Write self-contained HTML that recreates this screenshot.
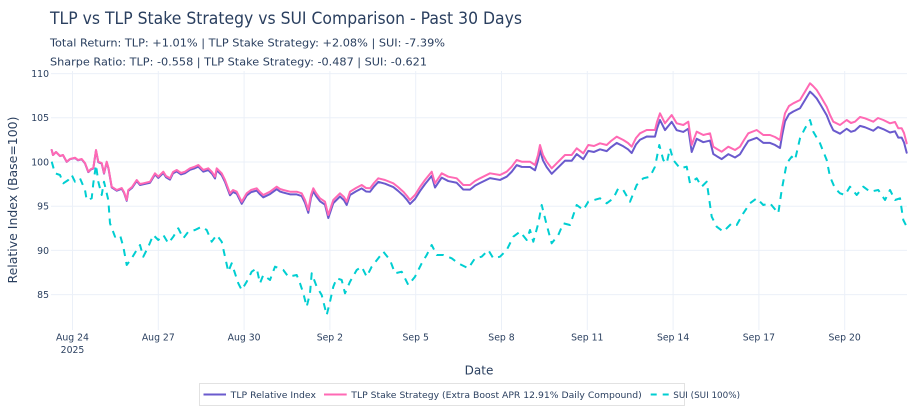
<!DOCTYPE html>
<html><head><meta charset="utf-8"><style>
html,body{margin:0;padding:0;background:#fff;}
svg{display:block;}
text{font-family:"DejaVu Sans","Liberation Sans",sans-serif;fill:#2a3f5f;}
</style></head><body>
<svg width="922" height="416" viewBox="0 0 922 416" xmlns="http://www.w3.org/2000/svg">
<rect width="922" height="416" fill="#fff"/>
<g stroke="#EBF0F8" stroke-width="1">
<line x1="51" y1="73.6" x2="907" y2="73.6"/>
<line x1="51" y1="117.8" x2="907" y2="117.8"/>
<line x1="51" y1="162" x2="907" y2="162"/>
<line x1="51" y1="206.2" x2="907" y2="206.2"/>
<line x1="51" y1="250.4" x2="907" y2="250.4"/>
<line x1="51" y1="294.6" x2="907" y2="294.6"/>
<line x1="72.5" y1="71" x2="72.5" y2="330"/>
<line x1="158.3" y1="71" x2="158.3" y2="330"/>
<line x1="244.1" y1="71" x2="244.1" y2="330"/>
<line x1="329.9" y1="71" x2="329.9" y2="330"/>
<line x1="415.7" y1="71" x2="415.7" y2="330"/>
<line x1="501.5" y1="71" x2="501.5" y2="330"/>
<line x1="587.3" y1="71" x2="587.3" y2="330"/>
<line x1="673.1" y1="71" x2="673.1" y2="330"/>
<line x1="758.9" y1="71" x2="758.9" y2="330"/>
<line x1="844.7" y1="71" x2="844.7" y2="330"/>
</g>
<defs>
<path id="stake" d="M51.7,150 L53,155 L56,152 L60,156 L63,155 L66.7,161.7 L70,159 L75,157.7 L78,160 L81.7,159 L85,163 L88.3,171.7 L91,169 L93.3,168 L96,150 L98.3,161.7 L101.7,163 L104,173 L106.7,161.7 L108.5,168 L111.7,186.7 L116.7,190 L121.7,188 L124,192 L126.7,200 L128.3,190 L132,187 L136.7,180 L140,184 L143.3,183.3 L150,181.7 L155,173.3 L158.3,176.7 L163.3,171.7 L166,176 L170,178.3 L173,172 L176.7,170 L181,173 L185,171.7 L190,168.3 L194,167 L198.3,165 L203.3,170 L208.3,168.3 L212,172 L215,176.7 L216.7,168.3 L221.7,173.3 L225,180 L230,193.3 L233,190 L236.7,191.7 L241.7,201.7 L246.7,193.3 L251,190 L256.7,188.3 L260,192 L263.3,195 L270,191.7 L276.7,186.7 L280,189 L283.3,190 L290,191.7 L296.7,191.7 L301.7,193.3 L305,200 L308.3,210 L311,195 L313.3,188.3 L316,193 L320,198.3 L325,201.7 L328.3,215 L333.3,200 L340,193.3 L344,197 L346.7,201.7 L350,191.7 L356,188 L361.7,185 L366,188 L370,188.3 L374,183 L378.3,178.3 L385,180 L393.3,183.3 L398,187 L403.3,191.7 L407,196 L410,200 L415,195 L420,187 L425,180 L431.7,171.7 L435,183.3 L441.7,173.3 L448.3,176.7 L456.7,178.3 L463.3,185 L470,185 L475,181 L480,178.3 L490,173.3 L500,175 L506.7,171.7 L511.7,166.7 L516.7,160 L521.7,161.7 L530,161.7 L535,165 L538,155 L540,145 L543,155 L546.7,161.7 L551.7,168.3 L558.3,161.7 L565,155 L571.7,155 L576.7,148.3 L583.3,153.3 L588.3,145 L594,146 L600,143.3 L606.7,145 L611,141 L616.7,136.7 L623.3,140 L628,143 L631.7,146.7 L636,138 L640,133.3 L646.7,130 L655,130 L657,122 L660,113.3 L665,123.3 L671.7,115 L676.7,123.3 L683.3,125 L688.3,121.7 L691.7,145 L696.7,131.7 L703.3,135 L710,133.3 L713.3,146.7 L717,149 L721.7,151.7 L728.3,146.7 L735,150 L740,146.7 L744,140 L748.3,133.3 L756.7,130 L763.3,135 L770,135 L775,137 L780,140 L782,128 L785,113.3 L789,106 L793.3,103.3 L800,100 L805,91.7 L810,83.3 L813,86 L816.7,90 L821,97 L826.7,106.7 L830,115 L833.3,121.7 L840,125 L846.7,120 L851,123 L855,121.7 L860,117 L865,118.3 L873.3,121.7 L878,118 L883.3,120 L890,123.3 L895,122 L898.3,128.3 L901.7,128.3 L904,133 L906.7,143.3"/>
</defs>
<g fill="none" stroke-width="2" stroke-linejoin="round" stroke-linecap="round">
<use href="#stake" stroke="#6A5ACD" transform="matrix(1,0.011,0,1,0,-0.56)"/>
<use href="#stake" stroke="#FF69B4"/>
<path stroke="#00CED1" stroke-dasharray="7,6" stroke-linecap="butt" d="M51.7,161.7 L55,173.3 L60,175 L63.3,183.3 L68.3,180 L71.7,175 L75,181.7 L80,178.3 L85,190 L86.7,200 L91.7,198.3 L93.3,183.3 L96,165 L98.3,181.7 L101.7,195 L104,181.7 L108.3,200 L110,223.3 L115,236.7 L120,235 L123.3,246.7 L126.7,265 L131.7,258.3 L136.7,250 L140,245 L143.3,256.7 L148.3,246.7 L153.3,235 L158.3,240 L163.3,235 L168.3,243.3 L173.3,236.7 L178.3,228.3 L183.3,238.3 L188.3,231.7 L195,230 L201.7,226.7 L206.7,230 L211.7,241.7 L216.7,235 L221.7,241.7 L225,256.7 L228.3,271.7 L231.7,263.3 L238.3,283.3 L241.7,290 L246.7,281.7 L251.7,271.7 L256.7,268.3 L260,283.3 L263.3,275 L270,280 L275,266.7 L283.3,270 L288.3,276.7 L296.7,275 L300,283.3 L303.3,293.3 L306.7,306.7 L310,293.3 L311.7,273.3 L316.7,286.7 L321.7,295 L326.7,315 L330,301.7 L333.3,286.7 L336.7,278.3 L341.7,280 L345,293.3 L350,281.7 L356.7,270 L361.7,266.7 L366.7,276.7 L371.7,266.7 L378.3,258.3 L383.3,251.7 L390,260 L395,273.3 L401.7,271.7 L408.3,285 L415,276.7 L421.7,263.3 L426.7,255 L431.7,245 L436.7,255 L443.3,255 L451.7,258.3 L458.3,263.3 L468.3,268.3 L475,258.3 L481.7,256.7 L488.3,250 L493.3,258.3 L500,256.7 L506.7,250 L513.3,236.7 L520,231.7 L526.7,240 L530,230 L533.3,241.7 L538.3,223.3 L541.7,205 L546.7,225 L551.7,243.3 L558.3,235 L563.3,223.3 L570,225 L576.7,205 L583.3,210 L588.3,201.7 L600,198.3 L606.7,203.3 L613.3,198.3 L618.3,188.3 L623.3,190 L630,201.7 L636.7,185 L643.3,178.3 L650,176.7 L655,166.7 L659.3,145 L663.3,160 L666.7,163.3 L670,148.3 L673.3,160 L680,168.3 L686.7,166.7 L690,183.3 L696.7,178.3 L701.7,186.7 L706.7,181.7 L711.7,216.7 L716.7,226.7 L723.3,231.7 L731.7,223.3 L736.7,225 L743.3,213.3 L750,203.3 L756.7,198.3 L763.3,205 L770,203.3 L778.3,213.3 L781.7,190 L786.7,163.3 L791.7,156.7 L795,160 L800,138.3 L805,128.3 L810,120 L813.3,131.7 L820,143.3 L826.7,160 L830,176.7 L835,188.3 L840,193.3 L845,195 L850,186.7 L856.7,195 L863.3,186.7 L870,191.7 L878.3,190 L885,200 L890,190 L895,200 L900,198.3 L903.3,220 L906.7,226.7"/>
</g>
<!-- titles -->
<text x="50" y="24" font-size="17" textLength="472" lengthAdjust="spacingAndGlyphs">TLP vs TLP Stake Strategy vs SUI Comparison - Past 30 Days</text>
<text x="50" y="46.7" font-size="10.2" textLength="395" lengthAdjust="spacingAndGlyphs">Total Return: TLP: +1.01% | TLP Stake Strategy: +2.08% | SUI: -7.39%</text>
<text x="50" y="65.5" font-size="10.2" textLength="377" lengthAdjust="spacingAndGlyphs">Sharpe Ratio: TLP: -0.558 | TLP Stake Strategy: -0.487 | SUI: -0.621</text>
<!-- y ticks -->
<g font-size="9.3" text-anchor="end">
<text x="49" y="77">110</text>
<text x="49" y="121.2">105</text>
<text x="49" y="165.4">100</text>
<text x="49" y="209.6">95</text>
<text x="49" y="253.8">90</text>
<text x="49" y="298">85</text>
</g>
<!-- x ticks -->
<g font-size="9.3" text-anchor="middle">
<text x="72.5" y="340.5">Aug 24</text>
<text x="72.5" y="353">2025</text>
<text x="158.3" y="340.5">Aug 27</text>
<text x="244.1" y="340.5">Aug 30</text>
<text x="329.9" y="340.5">Sep 2</text>
<text x="415.7" y="340.5">Sep 5</text>
<text x="501.5" y="340.5">Sep 8</text>
<text x="587.3" y="340.5">Sep 11</text>
<text x="673.1" y="340.5">Sep 14</text>
<text x="758.9" y="340.5">Sep 17</text>
<text x="844.7" y="340.5">Sep 20</text>
</g>
<text x="479" y="374.5" font-size="12" text-anchor="middle">Date</text>
<text transform="translate(17,200) rotate(-90)" font-size="12" text-anchor="middle" textLength="167" lengthAdjust="spacingAndGlyphs">Relative Index (Base=100)</text>
<!-- legend -->
<rect x="199.5" y="383.5" width="485" height="22" fill="#fff" stroke="#E2E2E2" stroke-width="1"/>
<g stroke-width="2" fill="none">
<line x1="203.5" y1="394.5" x2="226" y2="394.5" stroke="#6A5ACD"/>
<line x1="324" y1="394.5" x2="346.7" y2="394.5" stroke="#FF69B4"/>
<line x1="650.7" y1="394.5" x2="670" y2="394.5" stroke="#00CED1" stroke-dasharray="6,6"/>
</g>
<g font-size="9.2">
<text x="230.7" y="397.8" textLength="85.3" lengthAdjust="spacingAndGlyphs">TLP Relative Index</text>
<text x="351.3" y="397.8" textLength="290.4" lengthAdjust="spacingAndGlyphs">TLP Stake Strategy (Extra Boost APR 12.91% Daily Compound)</text>
<text x="673.3" y="397.8" textLength="66.7" lengthAdjust="spacingAndGlyphs">SUI (SUI 100%)</text>
</g>
</svg>
</body></html>
